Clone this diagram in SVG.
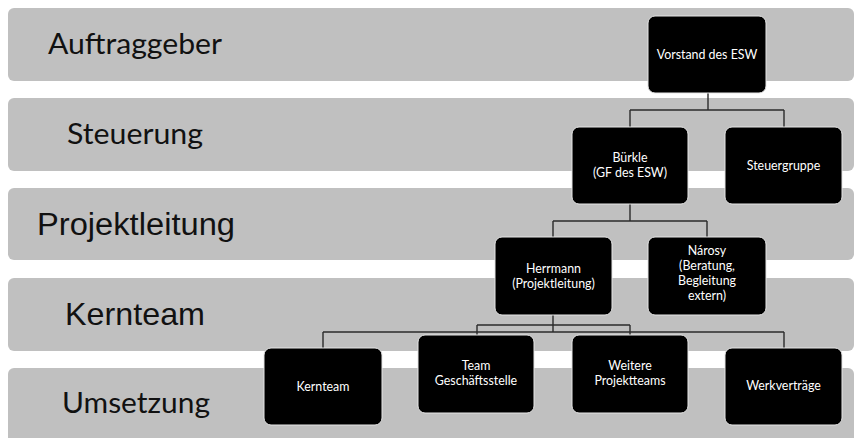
<svg xmlns="http://www.w3.org/2000/svg" width="855" height="438" viewBox="0 0 855 438">
  <style>
    .band { fill: #c0c0c0; }
    .lane { font-family: Lato, "Open Sans", sans-serif; fill: #111; }
    .lane-a { font-family: "Liberation Sans", Arial, sans-serif; fill: #111; }
    .node rect { fill: #000; stroke: #e6e6e6; stroke-width: 1; }
    .node text { font-family: Lato, "Open Sans", sans-serif; font-size: 12.4px; fill: #fff; text-anchor: middle; }
    .conn { fill: none; stroke: #2b2b2b; stroke-width: 1.4; }
  </style>

  <rect width="855" height="438" fill="#fff"/>

  <!-- lanes -->
  <g id="lanes">
    <rect class="band" x="8" y="8" width="846" height="73" rx="6"/>
    <rect class="band" x="8" y="98" width="846" height="73" rx="6"/>
    <rect class="band" x="8" y="188" width="846" height="72" rx="6"/>
    <rect class="band" x="8" y="278" width="846" height="73" rx="6"/>
    <rect class="band" x="8" y="368" width="846" height="80" rx="6"/>
    <text class="lane" x="48" y="54" font-size="29" textLength="174" lengthAdjust="spacingAndGlyphs">Auftraggeber</text>
    <text class="lane" x="67" y="144" font-size="29" textLength="136" lengthAdjust="spacingAndGlyphs">Steuerung</text>
    <text class="lane-a" x="37" y="235" font-size="31" textLength="198" lengthAdjust="spacingAndGlyphs">Projektleitung</text>
    <text class="lane-a" x="65" y="325" font-size="32" textLength="140" lengthAdjust="spacingAndGlyphs">Kernteam</text>
    <text class="lane" x="62" y="413" font-size="29" textLength="148" lengthAdjust="spacingAndGlyphs">Umsetzung</text>
  </g>

  <!-- connectors -->
  <g id="connectors">
    <path class="conn" d="M708 93 V110 M630 110 H784 M630 110 V127 M784 110 V127"/>
    <path class="conn" d="M630 204 V221 M553 221 H707 M553 221 V237 M707 221 V237"/>
    <path class="conn" d="M553 315 V332 M323 332 H784 M323 332 V348 M784 332 V348"/>
    <path class="conn" d="M477 325 H630 M477 325 V335 M630 325 V335"/>
  </g>

  <!-- nodes -->
  <g id="vorstand" class="node">
    <rect x="648" y="16" width="118" height="77" rx="7"/>
    <text x="707" y="59">Vorstand des ESW</text>
  </g>
  <g id="buerkle" class="node">
    <rect x="572" y="127" width="116" height="77" rx="7"/>
    <text x="630" y="162">Bürkle</text>
    <text x="630" y="177">(GF des ESW)</text>
  </g>
  <g id="steuergruppe" class="node">
    <rect x="725" y="127" width="117" height="77" rx="7"/>
    <text x="783.5" y="170">Steuergruppe</text>
  </g>
  <g id="herrmann" class="node">
    <rect x="495" y="237" width="117" height="78" rx="7"/>
    <text x="553.5" y="273">Herrmann</text>
    <text x="553.5" y="288">(Projektleitung)</text>
  </g>
  <g id="narosy" class="node">
    <rect x="648" y="237" width="118" height="78" rx="7"/>
    <text x="707" y="255">Nárosy</text>
    <text x="707" y="270">(Beratung,</text>
    <text x="707" y="285">Begleitung</text>
    <text x="707" y="300">extern)</text>
  </g>
  <g id="kernteam" class="node">
    <rect x="264" y="348" width="118" height="77" rx="7"/>
    <text x="323" y="391">Kernteam</text>
  </g>
  <g id="team-gs" class="node">
    <rect x="418" y="335" width="116" height="78" rx="7"/>
    <text x="476" y="370">Team</text>
    <text x="476" y="385">Geschäftsstelle</text>
  </g>
  <g id="weitere" class="node">
    <rect x="572" y="335" width="116" height="78" rx="7"/>
    <text x="630" y="370">Weitere</text>
    <text x="630" y="385">Projektteams</text>
  </g>
  <g id="werkvertraege" class="node">
    <rect x="725" y="348" width="117" height="77" rx="7"/>
    <text x="783.5" y="390">Werkverträge</text>
  </g>
</svg>
